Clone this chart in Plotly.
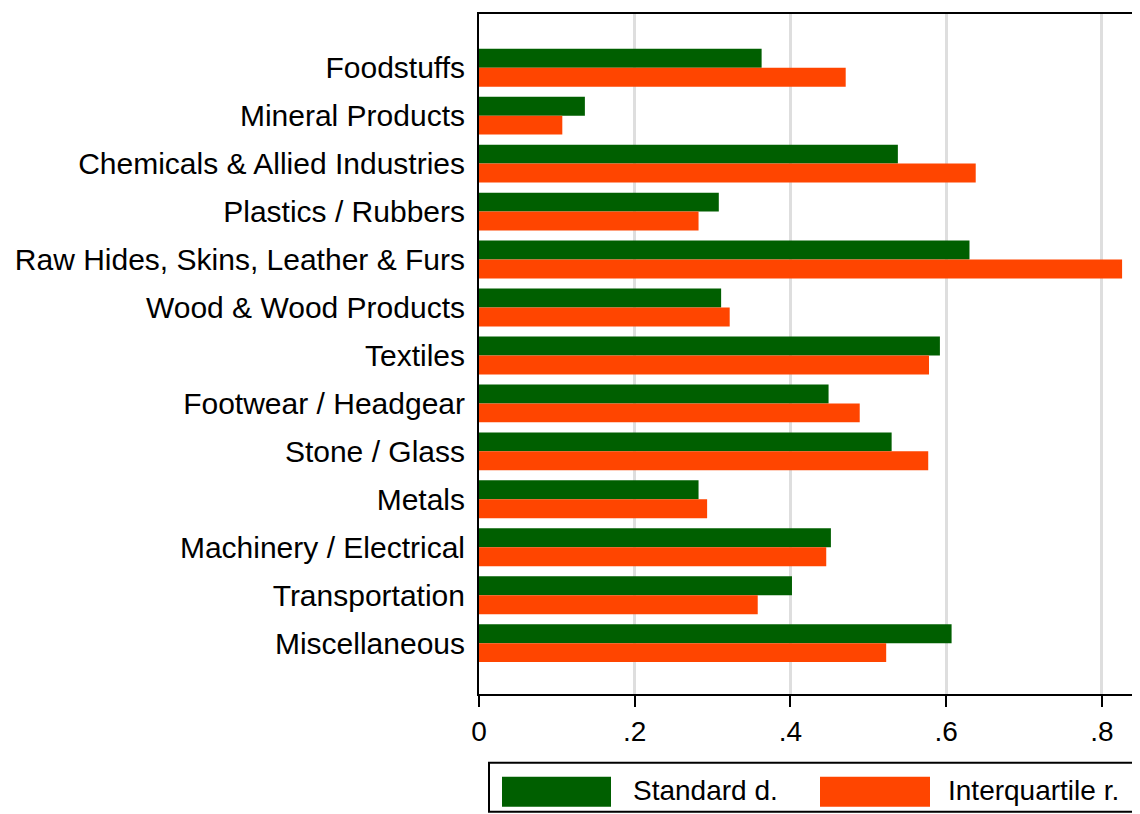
import plotly.graph_objects as go

categories = ["Foodstuffs", "Mineral Products", "Chemicals & Allied Industries",
              "Plastics / Rubbers", "Raw Hides, Skins, Leather & Furs",
              "Wood & Wood Products", "Textiles", "Footwear / Headgear",
              "Stone / Glass", "Metals", "Machinery / Electrical",
              "Transportation", "Miscellaneous"]
std_dev = [0.363, 0.136, 0.538, 0.308, 0.630, 0.311, 0.592, 0.449, 0.530,
           0.282, 0.452, 0.402, 0.607]
iqr = [0.471, 0.107, 0.638, 0.282, 0.826, 0.322, 0.578, 0.489, 0.577,
       0.293, 0.446, 0.358, 0.523]
series_names = ["Standard d.", "Interquartile r."]
colors = ["#005F00", "#FF4500"]
x_ticks = [0, 0.2, 0.4, 0.6, 0.8]
x_tick_labels = ["0", ".2", ".4", ".6", ".8"]

FONT = "Liberation Sans, Arial, sans-serif"

fig = go.Figure()
for name, vals, col in zip(series_names, [std_dev, iqr], colors):
    fig.add_trace(go.Bar(y=categories, x=vals, name=name, orientation="h",
                         marker=dict(color=col, line=dict(width=0)),
                         showlegend=False))

n = len(categories)
# page body adds an 8px offset; margins compensate for it
L, R, T, B = 471, 8, 4, 128
fig.update_layout(
    width=1140, height=814,
    margin=dict(l=L, r=R, t=T, b=B),
    paper_bgcolor="white", plot_bgcolor="white",
    barmode="group", bargap=0.21, bargroupgap=0,
    font=dict(family=FONT, size=28, color="black"),
    xaxis=dict(range=[0, 0.849], tickvals=x_ticks, ticktext=x_tick_labels,
               showgrid=True, gridcolor="#DEDEDE", gridwidth=2.5,
               showline=True, linecolor="black", linewidth=2, mirror=True,
               ticks="outside", ticklen=11, tickwidth=2, tickcolor="black",
               zeroline=False, tickfont=dict(size=28), fixedrange=True),
    yaxis=dict(range=[n - 1 + 1.06, -1.12], showgrid=False,
               showline=True, linecolor="black", linewidth=2,
               ticks="", ticklabelstandoff=6, tickfont=dict(size=30),
               zeroline=False, fixedrange=True),
)

# Legend drawn manually (screen pixel coords -> paper coords)
PW = 1140 - L - R
PH = 814 - T - B


def px_x(p):
    return (p - 8 - L) / PW


def px_y(p):
    return (814 - B - (p - 8)) / PH


shapes = [dict(type="rect", xref="paper", yref="paper",
               x0=px_x(489), x1=px_x(1160), y0=px_y(763), y1=px_y(812),
               line=dict(color="black", width=2), fillcolor="white")]
sw = [(502, 611, 633), (820, 930, 948)]
annotations = []
for (a, b, t), name, col in zip(sw, series_names, colors):
    shapes.append(dict(type="rect", xref="paper", yref="paper",
                       x0=px_x(a), x1=px_x(b), y0=px_y(777), y1=px_y(807),
                       line=dict(width=0), fillcolor=col))
    annotations.append(dict(xref="paper", yref="paper", x=px_x(t), y=px_y(791),
                            text=name, showarrow=False, xanchor="left",
                            yanchor="middle", xshift=-2,
                            font=dict(size=28, color="black")))
fig.update_layout(shapes=shapes, annotations=annotations)

fig.write_html("out.html")
